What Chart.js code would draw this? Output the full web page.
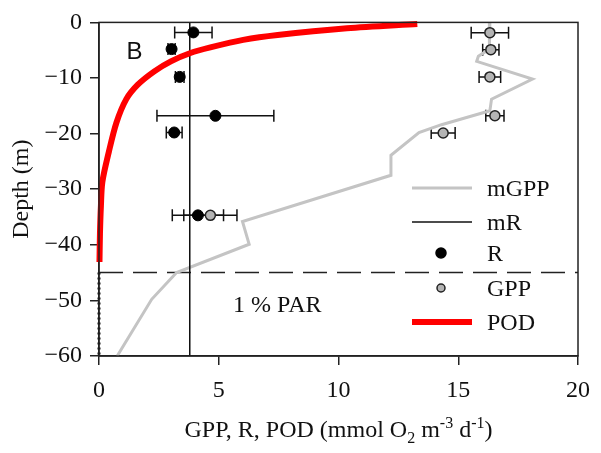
<!DOCTYPE html>
<html>
<head>
<meta charset="utf-8">
<script src="https://cdn.jsdelivr.net/npm/chart.js@4.4.1/dist/chart.umd.min.js"></script>
<style>
  html, body { margin: 0; padding: 0; background: #ffffff; }
  #c { display: block; }
</style>
</head>
<body>
<canvas id="c" width="601" height="453"></canvas>
<script>
// ---------- data ----------
const xTicks = [0, 5, 10, 15, 20];
const yTicks = [0, -10, -20, -30, -40, -50, -60];

const rDepth = [-1.8, -4.8, -9.8, -16.8, -19.8, -34.7];
const rValue = [3.94, 3.03, 3.37, 4.86, 3.14, 4.13];
const rErr   = [0.78, 0.15, 0.18, 2.44, 0.33, 1.07];

const gppDepth = [-1.85, -4.9, -9.8, -16.8, -19.9, -34.7];
const gppValue = [16.32, 16.36, 16.32, 16.53, 14.37, 4.65];
const gppErr   = [0.78, 0.34, 0.45, 0.38, 0.50, 1.11];

const mGppDepth = [0, -4.8, -6.1, -7.0, -10.2, -13.8, -15.9, -18.4, -19.8, -23.9, -27.5, -35.8, -39.9, -45.0, -49.8, -60];
const mGppValue = [16.32, 16.30, 15.84, 15.77, 18.10, 16.39, 16.32, 14.30, 13.36, 12.19, 12.19, 5.99, 6.27, 3.24, 2.20, 0.76];

const mRValue = 3.79;
const mRDepth = [0, -60];

const podDepth = [-0.3, -1.07, -2.26, -3.15, -4.5, -5.5, -7.0, -8.8, -11.2, -13.8, -18.0, -23.3, -28.7, -33.0, -38.0, -43.1];
const podValue = [13.29, 10.35, 7.46, 6.02, 4.65, 3.82, 3.00, 2.31, 1.62, 1.14, 0.73, 0.41, 0.14, 0.08, 0.04, 0.02];

const podZeroDepth = [-45, -60];
const podZeroValue = [0, 0];

const parDepth = -45;           // 1 % PAR depth
const parLabel = '1 % PAR';
const panelLabel = 'B';
const legendLabels = ['mGPP', 'mR', 'R', 'GPP', 'POD'];
const xTitleParts = [
  { t: 'GPP, R, POD (mmol O', k: 'n' },
  { t: '2', k: 'sub' },
  { t: ' m', k: 'n' },
  { t: '-3', k: 'sup' },
  { t: ' d', k: 'n' },
  { t: '-1', k: 'sup' },
  { t: ')', k: 'n' }
];
const yTitle = 'Depth (m)';

// ---------- helpers ----------
const pts = (xs, ys) => xs.map((v, i) => ({ x: v, y: ys[i] }));
const SERIF = '"Liberation Serif", "Times New Roman", serif';
const SANS = '"Liberation Sans", Arial, sans-serif';
const GREY_LINE = '#c4c4c4';
const GREY_FILL = '#b4b4b4';
const FS = 24;

// error bars through the library's scales
const errorBars = {
  id: 'errorBars',
  beforeDatasetsDraw(chart) {
    const ctx = chart.ctx;
    const xs = chart.scales.x, ys = chart.scales.y;
    ctx.save();
    ctx.strokeStyle = '#111';
    ctx.lineWidth = 1.5;
    chart.data.datasets.forEach(ds => {
      if (!ds.errors) return;
      ds.data.forEach((p, i) => {
        const e = ds.errors[i];
        const x0 = xs.getPixelForValue(p.x - e);
        const x1 = xs.getPixelForValue(p.x + e);
        const y = ys.getPixelForValue(p.y);
        ctx.beginPath();
        ctx.moveTo(x0, y); ctx.lineTo(x1, y);
        ctx.moveTo(x0, y - 6); ctx.lineTo(x0, y + 6);
        ctx.moveTo(x1, y - 6); ctx.lineTo(x1, y + 6);
        ctx.stroke();
      });
    });
    ctx.restore();
  }
};

const decorations = {
  id: 'decorations',
  afterDraw(chart) {
    const ctx = chart.ctx;
    const a = chart.chartArea;
    const xs = chart.scales.x, ys = chart.scales.y;
    ctx.save();
    // frame
    ctx.strokeStyle = '#222';
    ctx.lineWidth = 1.5;
    ctx.strokeRect(a.left, a.top, a.right - a.left, a.bottom - a.top);

    // panel label
    ctx.fillStyle = '#111';
    ctx.font = '24px ' + SANS;
    ctx.textAlign = 'left';
    ctx.textBaseline = 'alphabetic';
    ctx.fillText(panelLabel, xs.getPixelForValue(1.15), ys.getPixelForValue(-6.6));

    // 1 % PAR
    ctx.font = FS + 'px ' + SERIF;
    ctx.fillText(parLabel, xs.getPixelForValue(5.6), ys.getPixelForValue(-52.1));

    // legend
    const lx0 = 412, lx1 = 472, tx = 487;
    const ly = [188, 222, 253, 288, 322];
    const dsets = chart.data.datasets;
    const leg = [dsets[4], dsets[3], dsets[0], dsets[1], dsets[2]];
    ctx.font = FS + 'px ' + SERIF;
    leg.forEach((ds, i) => {
      const y = ly[i];
      if (ds.showLine) {
        ctx.strokeStyle = ds.borderColor;
        ctx.lineWidth = ds.borderWidth;
        ctx.setLineDash([]);
        ctx.beginPath(); ctx.moveTo(lx0, y); ctx.lineTo(lx1, y); ctx.stroke();
      } else {
        ctx.beginPath();
        ctx.arc((lx0 + lx1) / 2 - 1, y, ds.label === 'R' ? 5 : 4, 0, Math.PI * 2);
        ctx.fillStyle = ds.backgroundColor;
        ctx.fill();
        ctx.lineWidth = 1.5;
        ctx.strokeStyle = ds.borderColor;
        ctx.stroke();
      }
      ctx.fillStyle = '#111';
      ctx.fillText(legendLabels[i], tx, y + 8);
    });

    // x title with sub/superscripts
    const base = FS, small = 16;
    const parts = xTitleParts.map(p => {
      ctx.font = (p.k === 'n' ? base : small) + 'px ' + SERIF;
      return { ...p, w: ctx.measureText(p.t).width };
    });
    const total = parts.reduce((s, p) => s + p.w, 0);
    let x = (a.left + a.right) / 2 - total / 2;
    const by = 437;
    parts.forEach(p => {
      ctx.font = (p.k === 'n' ? base : small) + 'px ' + SERIF;
      const dy = p.k === 'sub' ? 6 : (p.k === 'sup' ? -9 : 0);
      ctx.fillText(p.t, x, by + dy);
      x += p.w;
    });

    // y title
    ctx.font = base + 'px ' + SERIF;
    ctx.translate(22, (a.top + a.bottom) / 2);
    ctx.rotate(-Math.PI / 2);
    ctx.textAlign = 'center';
    ctx.textBaseline = 'middle';
    ctx.fillText(yTitle, 0, 0);
    ctx.restore();
  }
};

new Chart(document.getElementById('c'), {
  type: 'scatter',
  data: {
    datasets: [
      { label: 'R', data: pts(rValue, rDepth), errors: rErr,
        backgroundColor: '#000', borderColor: '#000', pointRadius: 5.5, borderWidth: 1, showLine: false },
      { label: 'GPP', data: pts(gppValue, gppDepth), errors: gppErr,
        backgroundColor: GREY_FILL, borderColor: '#222', pointRadius: 5, borderWidth: 1.5, showLine: false },
      { label: 'POD', data: pts(podValue, podDepth), showLine: true, borderColor: '#ff0000',
        borderWidth: 6, pointRadius: 0, tension: 0.3, clip: false, borderCapStyle: 'butt' },
      { label: 'mR', data: pts([mRValue, mRValue], mRDepth), showLine: true, borderColor: '#111',
        borderWidth: 1.5, pointRadius: 0 },
      { label: 'mGPP', data: pts(mGppValue, mGppDepth), showLine: true, borderColor: GREY_LINE,
        borderWidth: 3, pointRadius: 0 },
      { label: 'par', data: pts([0, 20], [parDepth, parDepth]), showLine: true, borderColor: '#222',
        borderWidth: 1.5, borderDash: [24, 10], pointRadius: 0 },
      { label: 'podZero', data: pts(podZeroValue, podZeroDepth), showLine: true, borderColor: '#111',
        borderWidth: 3, borderDash: [2, 3], pointRadius: 0, clip: false }
    ]
  },
  options: {
    responsive: false,
    devicePixelRatio: 1,
    animation: false,
    layout: { padding: { top: 19, right: 17, left: 0, bottom: 0 } },
    plugins: { legend: { display: false }, tooltip: { enabled: false } },
    scales: {
      x: {
        type: 'linear', min: 0, max: 20,
        afterBuildTicks: s => { s.ticks = xTicks.map(v => ({ value: v })); },
        afterFit: s => { s.height = 97; },
        ticks: { color: '#111', font: { family: SERIF, size: FS }, padding: 11, maxRotation: 0 },
        grid: { drawOnChartArea: false, drawTicks: true, tickLength: 9, color: '#222', lineWidth: 1.5 },
        border: { display: true, color: '#222', width: 1.5 }
      },
      y: {
        type: 'linear', min: -60, max: 0,
        afterBuildTicks: s => { s.ticks = yTicks.map(v => ({ value: v })); },
        afterFit: s => { s.width = 99; },
        ticks: { color: '#111', font: { family: SERIF, size: FS }, padding: 8,
                 callback: v => (v < 0 ? '\u2212' + Math.abs(v) : String(v)) },
        grid: { drawOnChartArea: false, drawTicks: true, tickLength: 9, color: '#222', lineWidth: 1.5 },
        border: { display: true, color: '#222', width: 1.5 }
      }
    }
  },
  plugins: [errorBars, decorations]
});
</script>
</body>
</html>
